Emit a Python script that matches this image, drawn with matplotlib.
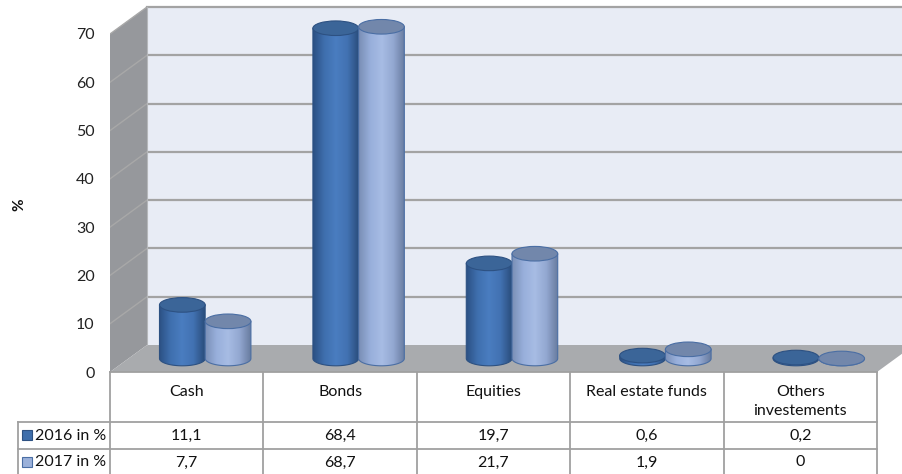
import numpy as np
import matplotlib.pyplot as plt
import matplotlib.transforms as mtransforms
from matplotlib.patches import Polygon, Ellipse, Rectangle
from matplotlib.colors import LinearSegmentedColormap

categories = ['Cash', 'Bonds', 'Equities', 'Real estate funds', 'Others\ninvestements']
series_names = ['2016 in %', '2017 in %']
values_2016 = [11.1, 68.4, 19.7, 0.6, 0.2]
values_2017 = [7.7, 68.7, 21.7, 1.9, 0]
y_ticks = [0, 10, 20, 30, 40, 50, 60, 70]

plt.rcParams['font.family'] = ['Lato', 'DejaVu Sans']

W, H = 902, 474
fig = plt.figure(figsize=(W / 100, H / 100), dpi=100)

# front plane of the 3-D box, in pixels
front_left, front_right = 110, 877
front_zero, front_top = 372, 34
px_cat = (front_right - front_left) / len(categories)
px_val = (front_zero - front_top) / 70

xmin, xmax = -0.5, 5.3
ymin, ymax = 0, 80
ax = fig.add_axes([front_left / W, 1 - front_zero / H,
                   (xmax - xmin) * px_cat / W, (ymax - ymin) * px_val / H])
ax.set_autoscale_on(False)
ax.set_xlim(xmin, xmax)
ax.set_ylim(ymin, ymax)
for s in ax.spines.values():
    s.set_visible(False)
ax.set_xticks([])
ax.set_yticks(y_ticks)
ax.set_yticklabels([str(t) for t in y_ticks], fontsize=11.5, color='#222222')
ax.tick_params(axis='y', length=0, pad=11)
ax.patch.set_visible(False)

# depth offset of the back wall
dx = 37 / px_cat
dy = 27 / px_val
n = len(categories)

# walls and floor
ax.add_patch(Rectangle((-0.5 + dx, dy), 10, 70, fc='#e8ecf5', ec='none', zorder=0))
ax.add_patch(Polygon([(-0.5, 0), (-0.5, 70), (-0.5 + dx, 70 + dy), (-0.5 + dx, dy)],
                     closed=True, fc='#96989c', ec='none', zorder=1))
ax.add_patch(Polygon([(-0.5, 0), (n - 0.5, 0), (n - 0.5 + dx, dy), (-0.5 + dx, dy)],
                     closed=True, fc='#a9abae', ec='none', zorder=1))
for t in y_ticks[1:]:
    ax.plot([-0.5 + dx, 10], [t + dy, t + dy], color='#a3a3a3', lw=1.6, zorder=0.5)
    ax.plot([-0.5, -0.5 + dx], [t, t + dy], color='#a8a8a8', lw=1.0, zorder=1.5)
ax.plot([-0.5 + dx, -0.5 + dx], [dy, 70 + dy], color='#b5b7ba', lw=0.8, zorder=1.5)

# cylinders, standing half way into the box
r = 0.149
eh = 7.3 / px_val
mid = 0.5
styles = [
    dict(stops=['#2b5083', '#3f6fae', '#4a7dc0', '#4272b2', '#2a4d7c'],
         top='#3b6598', edge='#2d5182'),
    dict(stops=['#7a8fb6', '#98afdb', '#a7bce4', '#93a8d1', '#687b9f'],
         top='#7287ab', edge='#4a6ea4'),
]
cmaps = [LinearSegmentedColormap.from_list('c%d' % k, s['stops']) for k, s in enumerate(styles)]

zo = 5
for i in range(n):
    for k, vals in enumerate([values_2016, values_2017]):
        v = vals[i]
        cx = i + (k - 0.5) * 2 * r + mid * dx
        base = mid * dy
        top = base + v
        th = np.linspace(np.pi, 2 * np.pi, 60)
        pts = [(cx - r, top), (cx - r, base)]
        pts += list(zip(cx + r * np.cos(th), base + eh * np.sin(th)))
        pts += [(cx + r, top)]
        body = Polygon(pts, closed=True, fc='none', ec=styles[k]['edge'], lw=0.8, zorder=zo + 0.1)
        ax.add_patch(body)
        grad = cmaps[k](np.linspace(0, 1, 200))[None, :, :3]
        im = ax.imshow(grad, extent=[cx - r, cx + r, base - eh, top + eh],
                       aspect='auto', interpolation='bilinear', zorder=zo)
        im.set_clip_path(body)
        ax.add_patch(Ellipse((cx, top), 2 * r, 2 * eh, fc=styles[k]['top'],
                             ec=styles[k]['edge'], lw=0.8, zorder=zo + 0.2))
        zo += 1

# data table under the chart
pix = mtransforms.Affine2D().scale(1 / W, -1 / H).translate(0, 1) + fig.transFigure
tr = mtransforms.blended_transform_factory(ax.transData, pix)
line_c = '#a0a0a0'
row_top, row1, row2, row_end = 372, 422, 449, 476

for b in np.arange(n + 1) - 0.5:
    ax.plot([b, b], [row_top, row_end], transform=tr, color=line_c, lw=1.3, clip_on=False)
ax.plot([-0.5, n - 0.5], [row_top, row_top], transform=tr, color=line_c, lw=1.3, clip_on=False)
for yy in [row1, row2]:
    fig.add_artist(plt.Line2D([18, front_right], [yy, yy], transform=pix, color=line_c, lw=1.3))
fig.add_artist(plt.Line2D([18, 18], [row1, row_end], transform=pix, color=line_c, lw=1.3))

for i, c in enumerate(categories):
    ax.text(i, 385, c, transform=tr, ha='center', va='top', fontsize=11.5,
            color='#111111', linespacing=1.5, clip_on=False)


def fmt(v):
    return ('%g' % v).replace('.', ',')


legend_fc = ['#3e6eab', '#9bb1da']
legend_ec = ['#2d5182', '#4a6ea4']
for k, (name, vals) in enumerate(zip(series_names, [values_2016, values_2017])):
    yc = (row1 + row2) / 2 + k * (row2 - row1)
    for i, v in enumerate(vals):
        ax.text(i, yc, fmt(v), transform=tr, ha='center', va='center', fontsize=11.5,
                color='#111111', clip_on=False)
    fig.add_artist(Rectangle((22, yc + 5), 10, -10, transform=pix, fc=legend_fc[k],
                             ec=legend_ec[k], lw=0.8))
    fig.text(35 / W, 1 - yc / H, name, ha='left', va='center', fontsize=11.5, color='#111111')

fig.text(19 / W, 1 - 205 / H, '%', rotation=90, ha='center', va='center',
         fontsize=11, fontweight='bold', color='#111111')

fig.savefig('out.png', dpi=100)
